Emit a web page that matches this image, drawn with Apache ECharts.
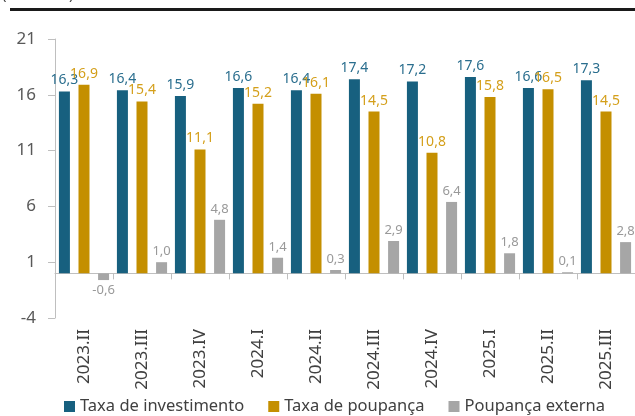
<!DOCTYPE html>
<html>
<head>
<meta charset="utf-8">
<script src="https://cdn.jsdelivr.net/npm/echarts@6/dist/echarts.min.js"></script>
<style>
  html, body { margin: 0; padding: 0; background: #fff; }
  #chart { width: 635px; height: 416px; }
</style>
</head>
<body>
<div id="chart"></div>
<script>
// trimestres
const categories = ['2023.II', '2023.III', '2023.IV', '2024.I', '2024.II', '2024.III', '2024.IV', '2025.I', '2025.II', '2025.III'];
const taxaInvestimento = [16.3, 16.4, 15.9, 16.6, 16.4, 17.4, 17.2, 17.6, 16.6, 17.3];
const taxaPoupanca = [16.9, 15.4, 11.1, 15.2, 16.1, 14.5, 10.8, 15.8, 16.5, 14.5];
const poupancaExterna = [-0.6, 1.0, 4.8, 1.4, 0.3, 2.9, 6.4, 1.8, 0.1, 2.8];
const yTicks = [-4, 1, 6, 11, 16, 21];

const font = 'Noto Sans';
const fmt = p => p.value.toFixed(1).replace('.', ',');

const chart = echarts.init(document.getElementById('chart'));

function barSeries(name, data, color, labelColor, labelSize) {
  return {
    name: name,
    type: 'bar',
    xAxisIndex: 0,
    // negative values get their label under the bar
    data: data.map(v => v < 0 ? { value: v, label: { position: 'bottom' } } : v),
    barWidth: 11,
    barGap: '78%',
    itemStyle: { color: color },
    label: {
      show: true,
      position: 'top',
      distance: 4,
      formatter: fmt,
      color: labelColor,
      fontFamily: font,
      fontSize: labelSize
    }
  };
}

const option = {
  animation: false,
  textStyle: { fontFamily: font },
  grid: { left: 55, top: 39, width: 583, height: 279 },
  graphic: [
    { type: 'rect', shape: { x: 10, y: 8, width: 640, height: 3 }, style: { fill: '#1a1a1a' } },
    { type: 'text', left: 2, top: -13, style: { text: '(% do PIB)', fontSize: 15, fontFamily: font, fill: '#404040' } }
  ],
  legend: {
    bottom: -4,
    left: 59,
    itemWidth: 11,
    itemHeight: 11,
    itemGap: 24,
    icon: 'rect',
    textStyle: { fontFamily: font, fontSize: 16.5, color: '#404040' },
    data: ['Taxa de investimento', 'Taxa de poupança', 'Poupança externa']
  },
  xAxis: [
    {
      type: 'category',
      data: categories,
      position: 'bottom',
      axisLine: { onZero: true, lineStyle: { color: '#BFBFBF', width: 1 } },
      axisTick: { show: true, length: 6, lineStyle: { color: '#BFBFBF' } },
      axisLabel: { show: false }
    },
    {
      type: 'category',
      data: categories,
      position: 'bottom',
      axisLine: { show: false, onZero: false },
      axisTick: { show: false },
      axisLabel: { rotate: 90, margin: 11, fontFamily: font, fontSize: 17, color: '#404040' }
    }
  ],
  yAxis: {
    type: 'value',
    min: -4,
    max: 21,
    splitLine: { show: false },
    axisLine: { show: true, lineStyle: { color: '#BFBFBF' } },
    axisTick: { show: true, length: 7, customValues: yTicks, lineStyle: { color: '#BFBFBF' } },
    axisLabel: { customValues: yTicks, margin: 19, fontFamily: font, fontSize: 17, color: '#595959' }
  },
  series: [
    barSeries('Taxa de investimento', taxaInvestimento, '#17607F', '#2A6E8E', 14),
    barSeries('Taxa de poupança', taxaPoupanca, '#C48F00', '#D49F1A', 14),
    barSeries('Poupança externa', poupancaExterna, '#A6A6A6', '#999999', 13)
  ]
};

chart.setOption(option);
</script>
</body>
</html>
